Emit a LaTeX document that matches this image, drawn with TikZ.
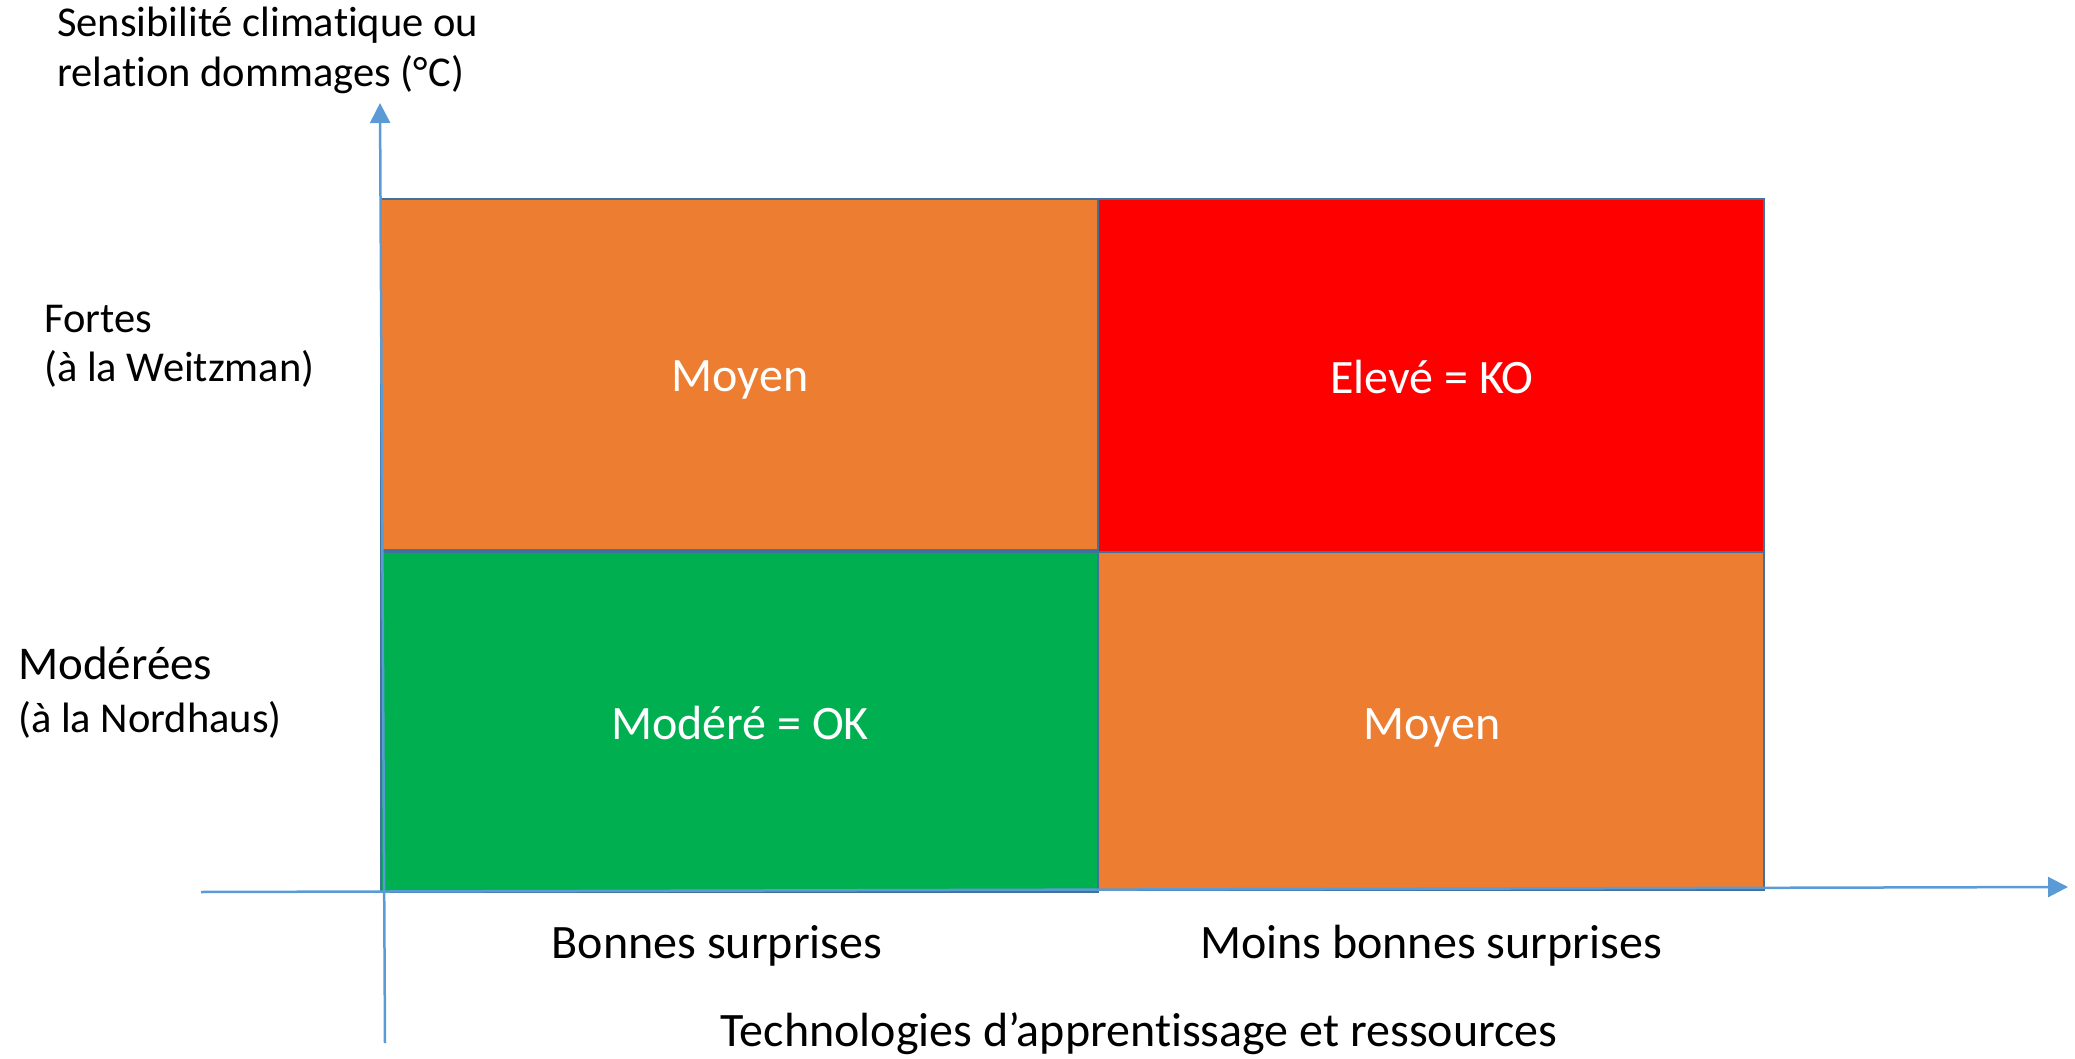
\documentclass[tikz,border=0pt]{standalone}
\usepackage{fontspec}
\setmainfont{Carlito}[Ligatures={NoCommon}]
\usetikzlibrary{arrows.meta}
\definecolor{axisblue}{HTML}{5B9BD5}
\definecolor{cellline}{HTML}{41719C}
\definecolor{corange}{HTML}{ED7D31}
\definecolor{cred}{HTML}{FF0000}
\definecolor{cgreen}{HTML}{00B050}
\tikzset{
  axis/.style={draw=axisblue, line width=2.5pt},
  cell/.style={draw=cellline, line width=2.5pt, inner sep=0pt},
  celltext/.style={text=white, font=\fontsize{48}{58}\selectfont},
  lbl/.style={text=black, font=\fontsize{42.5}{51}\selectfont, inner sep=0pt},
  xlbl/.style={text=black, font=\fontsize{48}{58}\selectfont, inner sep=0pt},
}
\begin{document}
\begin{tikzpicture}[x=1pt,y=-1pt]
\useasboundingbox (0,0) rectangle (2075,1059);
% cells
\path[cell, fill=corange] (381,199) rectangle (1098,550);
\path[cell, fill=cred] (1098,199) rectangle (1764,552);
\path[cell, fill=cgreen] (381,552) rectangle (1098,892);
\path[cell, fill=corange] (1098,552) rectangle (1764,890);
% axes
\coordinate (ybot) at (385,1043);
\coordinate (ytop) at (380,103);
\coordinate (xleft) at (201,892);
\coordinate (xright) at (2068,887);
\draw[axis, -{Triangle[length=20pt,width=20pt]}] (ybot) -- (ytop);
\draw[axis, -{Triangle[length=20pt,width=20pt]}] (xleft) -- (xright);
% cell texts
\node[celltext] (c11) at (740,380) {Moyen};
\node[celltext] (c12) at (1432,377) {Elevé = KO};
\node[celltext] (c21) at (740,723) {Modéré = OK};
\node[celltext] (c22) at (1432,728) {Moyen};
% axis labels
\node[lbl, anchor=west] (yl1) at (57,25) {Sensibilité climatique ou};
\node[lbl, anchor=west] (yl2) at (57,75) {relation dommages (°\kern1pt C)};
\node[lbl, anchor=west] (f1) at (44,319) {Fortes};
\node[lbl, anchor=west] (f2) at (44,369) {(à la Weitzman)};
\node[lbl, anchor=west, font=\fontsize{47}{56}\selectfont] (m1) at (18,663) {Modérées};
\node[lbl, anchor=west] (m2) at (18,720) {(à la Nordhaus)};
\node[xlbl] (b1) at (717,946) {Bonnes surprises};
\node[xlbl] (b2) at (1431,946) {Moins bonnes surprises};
\node[xlbl] (xl) at (1139,1034) {Technologies d’apprentissage et ressources};
\end{tikzpicture}
\end{document}
